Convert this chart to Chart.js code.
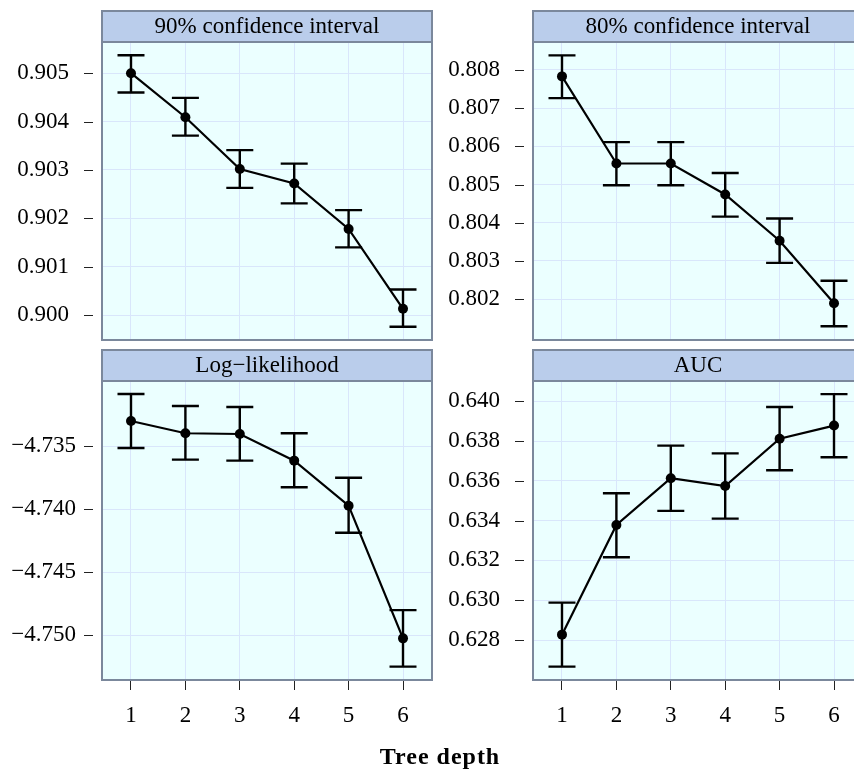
<!DOCTYPE html>
<html>
<head>
<meta charset="utf-8">
<script src="https://cdn.jsdelivr.net/npm/chart.js@4.4.0/dist/chart.umd.min.js"></script>
<style>
  html, body { margin: 0; padding: 0; background: #fff; overflow: hidden; width: 854px; height: 773px; }
  canvas { position: absolute; }
  #xtitle {
    position: absolute; left: 320px; width: 240px; top: 743px;
    text-align: center; font: bold 24px "Liberation Serif", serif; letter-spacing: 1px; color: #000;
  }
</style>
</head>
<body>
<canvas id="p90" width="440" height="345" style="left:0;top:0"></canvas>
<canvas id="p80" width="440" height="345" style="left:431px;top:0"></canvas>
<canvas id="pll" width="440" height="434" style="left:0;top:339px"></canvas>
<canvas id="pauc" width="440" height="434" style="left:431px;top:339px"></canvas>
<div id="xtitle">Tree depth</div>
<script>
// tree depth on the x axis
var depth = [1, 2, 3, 4, 5, 6];

// 90% confidence interval
var ci90 = [0.90500, 0.90409, 0.90302, 0.90272, 0.90178, 0.90013];
var ci90Hi = [0.90537, 0.90449, 0.90341, 0.90313, 0.90217, 0.90053];
var ci90Lo = [0.90460, 0.90371, 0.90263, 0.90231, 0.90140, 0.89976];
var ci90Ticks = [0.900, 0.901, 0.902, 0.903, 0.904, 0.905];

// 80% confidence interval
var ci80 = [0.80783, 0.80555, 0.80555, 0.80474, 0.80353, 0.80189];
var ci80Hi = [0.80838, 0.80611, 0.80611, 0.80530, 0.80411, 0.80248];
var ci80Lo = [0.80726, 0.80498, 0.80498, 0.80416, 0.80295, 0.80129];
var ci80Ticks = [0.802, 0.803, 0.804, 0.805, 0.806, 0.807, 0.808];

// log-likelihood
var logLik = [-4.73302, -4.73399, -4.73405, -4.73616, -4.73973, -4.75024];
var logLikHi = [-4.73088, -4.73183, -4.73191, -4.73399, -4.73751, -4.74800];
var logLikLo = [-4.73516, -4.73608, -4.73616, -4.73827, -4.74187, -4.75248];
var logLikTicks = [-4.750, -4.745, -4.740, -4.735];

// AUC
var auc = [0.62827, 0.63378, 0.63613, 0.63574, 0.63812, 0.63878];
var aucHi = [0.62988, 0.63538, 0.63777, 0.63738, 0.63971, 0.64036];
var aucLo = [0.62666, 0.63216, 0.63449, 0.63410, 0.63653, 0.63719];
var aucTicks = [0.628, 0.630, 0.632, 0.634, 0.636, 0.638, 0.640];

var FONT = "'Liberation Serif', serif";
var PANEL_BG = "#ebffff";
var GRID = "#d9e6fb";
var FRAME = "#7b889c";
var STRIP = "#bacdeb";

// panel background, frame, strip header, y tick dashes and error bars
var latticePanel = {
    id: "latticePanel",
    beforeDraw: function (chart) {
        var a = chart.chartArea, ctx = chart.ctx;
        ctx.save();
        ctx.fillStyle = PANEL_BG;
        ctx.fillRect(a.left, a.top, a.right - a.left, a.bottom - a.top);
        ctx.restore();
    },
    afterDatasetsDraw: function (chart, args, opts) {
        var ctx = chart.ctx;
        var xs = chart.scales.x, ys = chart.scales.y;
        ctx.save();
        ctx.strokeStyle = "#000";
        ctx.lineWidth = 2.4;
        for (var i = 0; i < depth.length; i++) {
            var px = xs.getPixelForValue(depth[i]);
            var top = ys.getPixelForValue(opts.hi[i]);
            var bot = ys.getPixelForValue(opts.lo[i]);
            ctx.beginPath();
            ctx.moveTo(px, top); ctx.lineTo(px, bot);
            ctx.moveTo(px - 13.5, top); ctx.lineTo(px + 13.5, top);
            ctx.moveTo(px - 13.5, bot); ctx.lineTo(px + 13.5, bot);
            ctx.stroke();
        }
        ctx.restore();
    },
    afterDraw: function (chart, args, opts) {
        var a = chart.chartArea, ctx = chart.ctx;
        var ys = chart.scales.y;
        ctx.save();
        // strip
        ctx.fillStyle = STRIP;
        ctx.fillRect(a.left, a.top - 31, a.right - a.left, 31);
        ctx.strokeStyle = FRAME;
        ctx.lineWidth = 2;
        ctx.strokeRect(a.left, a.top - 31, a.right - a.left, 31);
        ctx.strokeRect(a.left, a.top, a.right - a.left, a.bottom - a.top);
        ctx.fillStyle = "#000";
        ctx.font = "23px " + FONT;
        ctx.textAlign = "center";
        ctx.textBaseline = "middle";
        ctx.fillText(opts.title, (a.left + a.right) / 2, a.top - 15);
        // y tick dashes
        ctx.strokeStyle = "#222";
        ctx.lineWidth = 1;
        ys.ticks.forEach(function (t) {
            var py = Math.round(ys.getPixelForValue(t.value)) + 0.5;
            ctx.beginPath();
            ctx.moveTo(a.left - 18, py);
            ctx.lineTo(a.left - 9, py);
            ctx.stroke();
        });
        ctx.restore();
    }
};

function makePanel(id, title, values, hi, lo, tickVals, yMin, yMax, bottom, labPad) {
    var ctx = document.getElementById(id).getContext("2d");
    return new Chart(ctx, {
        type: "line",
        data: {
            datasets: [{
                data: depth.map(function (d, i) { return { x: d, y: values[i] }; }),
                borderColor: "#000",
                borderWidth: 2.2,
                backgroundColor: "#000",
                pointRadius: 5,
                pointBackgroundColor: "#000",
                pointBorderWidth: 0,
                tension: 0
            }]
        },
        options: {
            responsive: false,
            animation: false,
            layout: { padding: { left: 0, right: 8, top: 42, bottom: bottom ? 0 : 4 } },
            plugins: {
                legend: { display: false },
                tooltip: { enabled: false },
                latticePanel: { title: title, hi: hi, lo: lo }
            },
            scales: {
                x: {
                    type: "linear",
                    min: 0.467,
                    max: 6.533,
                    afterBuildTicks: function (s) {
                        s.ticks = depth.map(function (d) { return { value: d }; });
                    },
                    afterFit: function (s) {
                        s.height = bottom ? 93 : 0;
                        s.paddingLeft = 0;
                        s.paddingRight = 0;
                    },
                    border: { display: false },
                    grid: {
                        color: GRID,
                        lineWidth: 1,
                        drawTicks: bottom,
                        tickLength: 10,
                        tickColor: "#222",
                        tickWidth: 1
                    },
                    ticks: {
                        display: bottom,
                        padding: 12,
                        color: "#000",
                        font: { family: FONT, size: 23 }
                    }
                },
                y: {
                    min: yMin,
                    max: yMax,
                    afterBuildTicks: function (s) {
                        s.ticks = tickVals.map(function (v) { return { value: v }; });
                    },
                    afterFit: function (s) {
                        s.width = 102;
                        s.paddingTop = 0;
                        s.paddingBottom = 0;
                    },
                    border: { display: false },
                    grid: { color: GRID, lineWidth: 1, drawTicks: false },
                    ticks: {
                        crossAlign: "center",
                        padding: labPad,
                        color: "#000",
                        font: { family: FONT, size: 23 },
                        callback: function (v) {
                            return v.toFixed(3).replace("-", "\u2212");
                        }
                    }
                }
            }
        },
        plugins: [latticePanel]
    });
}

makePanel("p90", "90% confidence interval", ci90, ci90Hi, ci90Lo, ci90Ticks, 0.899485, 0.905645, false, 33);
makePanel("p80", "80% confidence interval", ci80, ci80Hi, ci80Lo, ci80Ticks, 0.80093, 0.80873, false, 33);
makePanel("pll", "Log\u2212likelihood", logLik, logLikHi, logLikLo, logLikTicks, -4.75354, -4.72985, true, 26);
makePanel("pauc", "AUC", auc, aucHi, aucLo, aucTicks, 0.62599, 0.64102, true, 33);
</script>
</body>
</html>
